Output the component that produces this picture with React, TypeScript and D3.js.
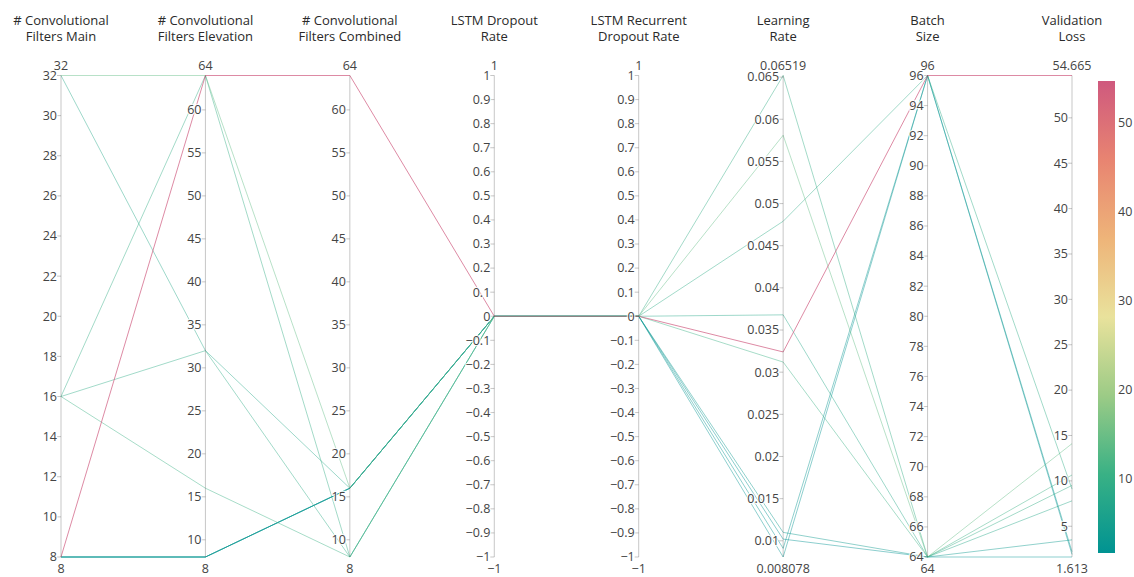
import React from 'react';
import * as d3 from 'd3';

// ---- data (one entry per trial) ----
const filtersMain = [16, 32, 16, 32, 8, 16, 8, 8, 8, 8];
const filtersElevation = [64, 64, 32, 32, 64, 16, 8, 8, 8, 8];
const filtersCombined = [8, 16, 8, 16, 64, 8, 16, 16, 16, 16];
const lstmDropout = [0, 0, 0, 0, 0, 0, 0, 0, 0, 0];
const lstmRecurrentDropout = [0, 0, 0, 0, 0, 0, 0, 0, 0, 0];
const learningRate = [0.06519, 0.0581, 0.0479, 0.0368, 0.0324, 0.0312, 0.011, 0.0102, 0.0091, 0.008078];
const batchSize = [64, 64, 96, 64, 96, 64, 64, 64, 96, 96];
const validationLoss = [9.5, 14.1, 9.1, 7.8, 54.665, 10.65, 3.5, 1.613, 2.2, 1.9];

const dimTitles = [
  ['# Convolutional', 'Filters Main'],
  ['# Convolutional', 'Filters Elevation'],
  ['# Convolutional', 'Filters Combined'],
  ['LSTM Dropout', 'Rate'],
  ['LSTM Recurrent', 'Dropout Rate'],
  ['Learning', 'Rate'],
  ['Batch', 'Size'],
  ['Validation', 'Loss'],
];
const dimValues = [
  filtersMain, filtersElevation, filtersCombined, lstmDropout,
  lstmRecurrentDropout, learningRate, batchSize, validationLoss,
];
const tickCounts = [12, 12, 12, 20, 20, 12, 12, 12];

// Plotly "Temps" colorscale
const tempsColors = [
  'rgb(0, 147, 146)', 'rgb(57, 177, 133)', 'rgb(156, 203, 134)', 'rgb(233, 226, 156)',
  'rgb(238, 180, 121)', 'rgb(232, 132, 113)', 'rgb(207, 89, 126)',
];
const colorbarTicks = [10, 20, 30, 40, 50];

const W = 1134;
const H = 577;
const X0 = 61;
const X1 = 1072;
const Y_TOP = 75.5;
const Y_BOT = 557;
const FONT = '"Open Sans", verdana, arial, sans-serif';

export default function App() {
  const fmt = d3.format('~g');
  const xScale = d3.scalePoint<number>().domain(d3.range(dimValues.length)).range([X0, X1]);

  const yScales = dimValues.map((vals) => {
    let [lo, hi] = d3.extent(vals) as [number, number];
    if (lo === hi) { lo -= 1; hi += 1; }
    return d3.scaleLinear().domain([lo, hi]).range([Y_BOT, Y_TOP]);
  });

  const cMin = d3.min(validationLoss) as number;
  const cMax = d3.max(validationLoss) as number;
  const colorScale = d3.scaleLinear<string>()
    .domain(tempsColors.map((_, i) => cMin + (i / (tempsColors.length - 1)) * (cMax - cMin)))
    .range(tempsColors)
    .interpolate(d3.interpolateRgb);

  const line = d3.line<[number, number]>();
  const nLines = validationLoss.length;
  const order = d3.range(nLines).sort((a, b) => validationLoss[a] - validationLoss[b]);
  const paths = order.map((k) => {
    const pts: [number, number][] = dimValues.map((vals, i) => [xScale(i) as number, yScales[i](vals[k])]);
    return { d: line(pts) as string, color: colorScale(validationLoss[k]), top: validationLoss[k] === cMax };
  });

  // colorbar
  const CB_X = 1098;
  const CB_W = 17;
  const CB_TOP = 81;
  const CB_BOT = 553;
  const cbScale = d3.scaleLinear().domain([cMin, cMax]).range([CB_BOT, CB_TOP]);

  return (
    <svg width={W} height={H} style={{ position: 'absolute', left: 0, top: 0, background: '#fff' }}
      fontFamily={FONT}>
      <defs>
        <linearGradient id="cbgrad" x1="0" y1="1" x2="0" y2="0">
          {tempsColors.map((c, i) => (
            <stop key={i} offset={`${(i / (tempsColors.length - 1)) * 100}%`} stopColor={c} />
          ))}
        </linearGradient>
      </defs>
      <rect x={0} y={0} width={W} height={H} fill="#fff" />

      {/* lines */}
      <g>
        {paths.map((p, i) => (
          <path key={i} d={p.d} fill="none" stroke={p.color} strokeWidth={1}
            strokeOpacity={p.top ? 0.7 : 0.45} />
        ))}
      </g>

      {/* axes */}
      {dimValues.map((vals, i) => {
        const x = xScale(i) as number;
        const y = yScales[i];
        const ticks = y.ticks(tickCounts[i]);
        const [lo, hi] = y.domain();
        return (
          <g key={i}>
            <line x1={x} x2={x} y1={Y_TOP} y2={Y_BOT} stroke="#444" strokeOpacity={0.3} strokeWidth={1} />
            {ticks.map((t, j) => (
              <g key={j}>
                <line x1={x - 4} x2={x} y1={y(t)} y2={y(t)} stroke="#444" strokeOpacity={0.3} />
                <text x={x - 4} y={y(t)} dy="0.35em" textAnchor="end" fontSize={12.5} fill="#444"
                  stroke="#fff" strokeWidth={2.5} strokeOpacity={0.8} paintOrder="stroke">
                  {fmt(t)}
                </text>
              </g>
            ))}
            <text x={x} y={Y_TOP - 6} textAnchor="middle" fontSize={12.5} fill="#444">{fmt(hi)}</text>
            <text x={x} y={Y_BOT + 16} textAnchor="middle" fontSize={12.5} fill="#444">{fmt(lo)}</text>
            <text x={x} y={25} textAnchor="middle" fontSize={13} fill="#2a2a2a">{dimTitles[i][0]}</text>
            <text x={x} y={41} textAnchor="middle" fontSize={13} fill="#2a2a2a">{dimTitles[i][1]}</text>
          </g>
        );
      })}

      {/* colorbar */}
      <rect x={CB_X} y={CB_TOP} width={CB_W} height={CB_BOT - CB_TOP} fill="url(#cbgrad)" />
      {colorbarTicks.map((t) => (
        <text key={t} x={CB_X + CB_W + 3} y={cbScale(t)} dy="0.35em" fontSize={12.5} fill="#444">{t}</text>
      ))}
    </svg>
  );
}
